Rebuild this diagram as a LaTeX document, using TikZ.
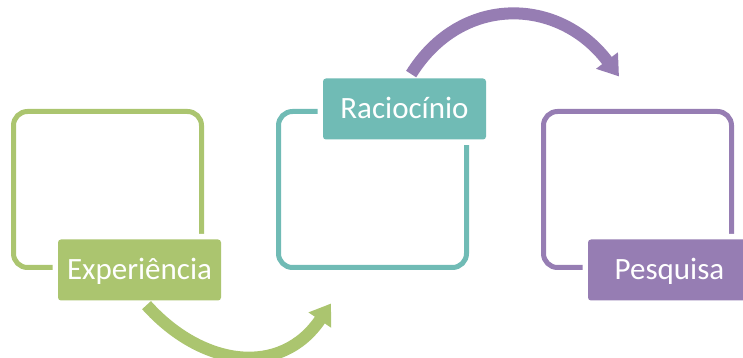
\documentclass[tikz,border=0pt]{standalone}
\usepackage{fontspec}
\setmainfont{Carlito}
\usepackage{tikz}
\usepackage{xcolor}
\usetikzlibrary{positioning, arrows.meta}
\definecolor{green1}{HTML}{ABC56F}
\definecolor{teal1}{HTML}{70BBB5}
\definecolor{purple1}{HTML}{967DB3}
\tikzstyle{stagebox} = [rectangle, rounded corners=14pt, minimum width=188pt, minimum height=156pt, line width=5pt]
\tikzstyle{stagetag} = [rectangle, rounded corners=3pt, minimum width=163pt, minimum height=61pt, inner sep=0pt, text=white, font=\fontsize{31}{36}\selectfont, text height=20pt, text depth=0pt, preaction={draw=white, line width=11pt}]
\tikzstyle{arrow} = [line width=12pt, -{Triangle[length=20pt,width=26pt]}]

\begin{document}
\begin{tikzpicture}[x=1pt, y=1pt, node distance=265pt]
    \clip (0,0) rectangle (743,358);
    \node (box1) [stagebox, draw=green1] at (107.5,168.5) {};
    \node (box2) [stagebox, draw=teal1, right of=box1] {};
    \node (box3) [stagebox, draw=purple1, right of=box2] {};
    \node (exp) [stagetag, fill=green1] at ([xshift=32pt]box1.south) {Experiência};
    \node (rac) [stagetag, fill=teal1] at ([xshift=32pt]box2.north) {Raciocínio};
    \node (pes) [stagetag, fill=purple1] at ([xshift=32pt]box3.south) {Pesquisa};
    \draw[arrow, green1, shorten <=6pt] ([xshift=3pt]exp.south) to[out=-48, in=-124, looseness=1.21] ([xshift=-41.5pt,yshift=-33.5pt]box2.south);
    \draw[arrow, purple1, shorten <=5pt] ([xshift=4pt]rac.north) to[out=58, in=127, looseness=1.21] ([xshift=-18.5pt,yshift=32.5pt]box3.north);
\end{tikzpicture}
\end{document}
